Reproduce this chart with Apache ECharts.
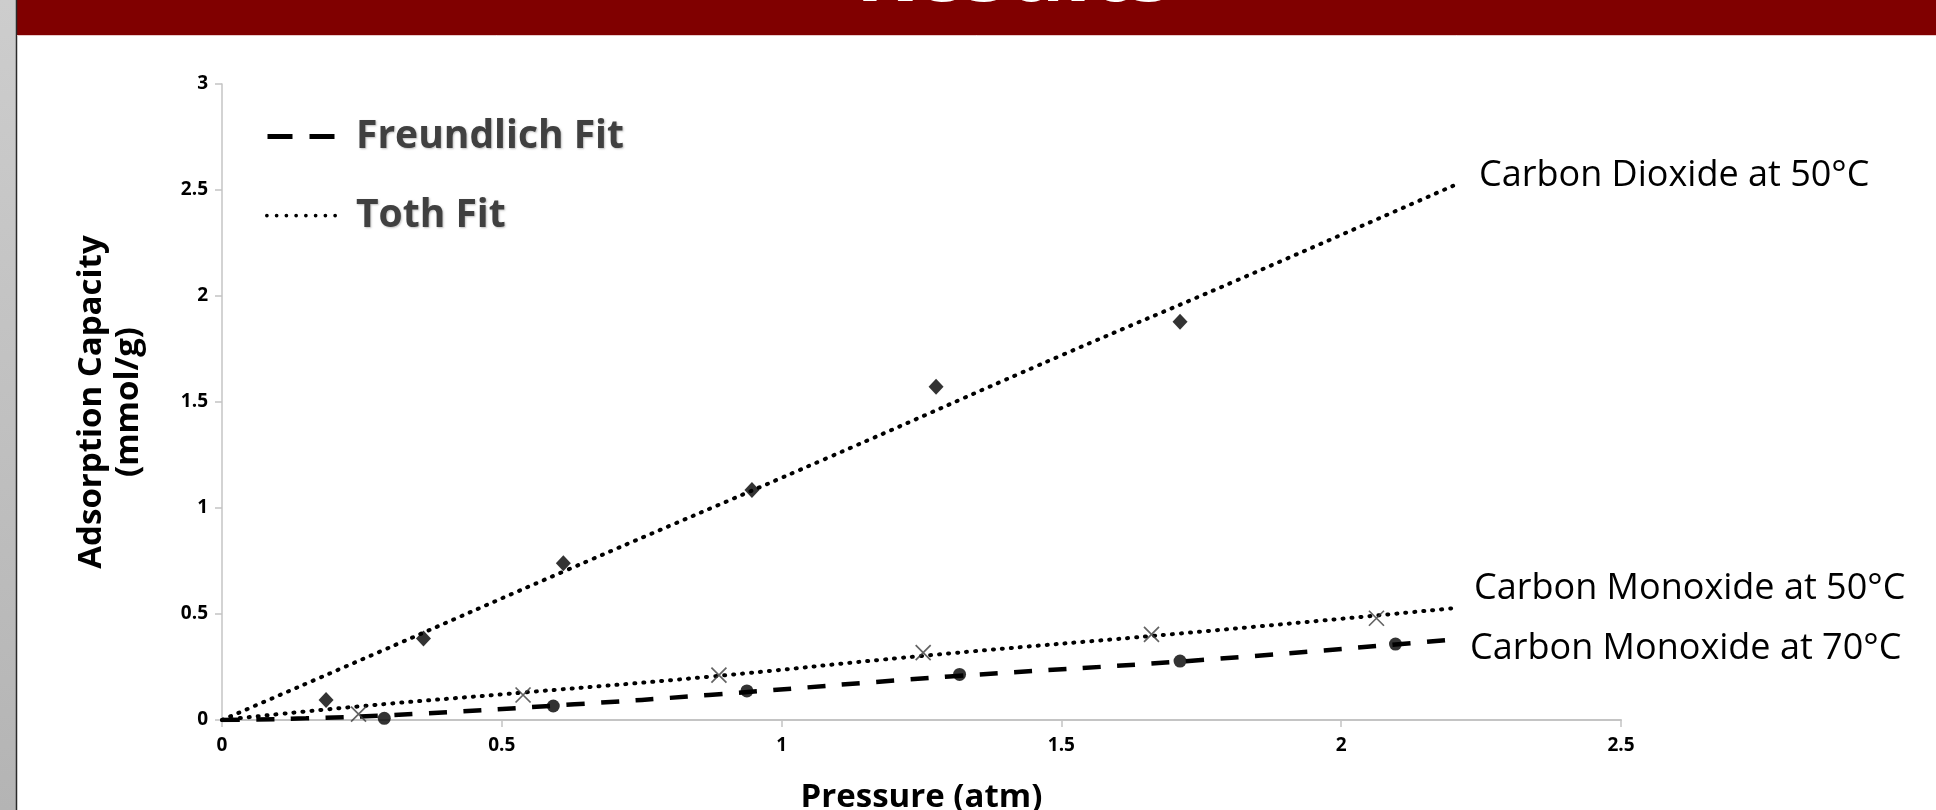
<!DOCTYPE html>
<html>
<head>
<meta charset="utf-8">
<script src="https://cdn.jsdelivr.net/npm/echarts@6/dist/echarts.min.js"></script>
<style>
html,body{margin:0;padding:0;background:#fff;}
#chart{width:1936px;height:810px;}
</style>
</head>
<body>
<div id="chart"></div>
<script>
// ---- data ----
const pageTitle = 'Results';
const xAxisTitle = 'Pressure (atm)';
const yAxisTitle = 'Adsorption Capacity\n(mmol/g)';
const legendNames = ['Freundlich Fit', 'Toth Fit'];
const seriesLabels = ['Carbon Dioxide at 50°C', 'Carbon Monoxide at 50°C', 'Carbon Monoxide at 70°C'];

// measured points
const co2X = [0.186, 0.36, 0.61, 0.947, 1.276, 1.712];
const co2Y = [0.094, 0.385, 0.739, 1.085, 1.572, 1.879];
const co50X = [0.244, 0.538, 0.888, 1.253, 1.661, 2.063];
const co50Y = [0.028, 0.118, 0.212, 0.318, 0.404, 0.48];
const co70X = [0.29, 0.592, 0.938, 1.318, 1.712, 2.097];
const co70Y = [0.008, 0.066, 0.137, 0.215, 0.278, 0.358];

// fit curves
const co2FitX = [0, 0.28, 0.61, 1.08, 1.5, 1.81, 2.2];
const co2FitY = [0, 0.32, 0.70, 1.234, 1.72, 2.07, 2.52];
const co50FitX = [0, 0.24, 0.54, 0.87, 1.25, 1.75, 2.2];
const co50FitY = [0, 0.063, 0.13, 0.204, 0.302, 0.417, 0.527];
const co70FitX = [0, 0.15, 0.34, 0.63, 0.87, 1.3, 1.75, 2.2];
const co70FitY = [0, 0.008, 0.028, 0.074, 0.118, 0.205, 0.283, 0.38];

const xMin = 0, xMax = 2.5, xStep = 0.5;
const yMin = 0, yMax = 3, yStep = 0.5;

function pairs(xs, ys) { return xs.map((x, i) => [x, ys[i]]); }

const FONT = "'Open Sans', 'Noto Sans', sans-serif";
const chart = echarts.init(document.getElementById('chart'), null, {renderer: 'canvas'});

const dotted = {type: [1, 8], width: 4, cap: 'round', color: '#000'};
const dashed = {type: [18, 16.5], width: 4.5, color: '#000'};

// legend sample icons (dashes / dots)
const dashIcon = 'path://M0,0h25v5h-25z M42,0h25v5h-25z';
let dotPath = '';
for (let i = 0; i < 8; i++) {
  const cx = 2 + i * 10.4;
  dotPath += 'M' + (cx - 2) + ',2a2,2 0 1,0 4,0a2,2 0 1,0 -4,0z ';
}
const dotIcon = 'path://' + dotPath;

function endLbl(text, off) {
  return {
    show: true, formatter: text, offset: off, distance: 5,
    color: '#000', fontFamily: FONT, fontSize: 36, fontWeight: 'normal'
  };
}

const option = {
  animation: false,
  backgroundColor: '#ffffff',
  color: ['#000'],
  grid: {left: 222, right: 315, top: 84, bottom: 90, containLabel: false, outerBoundsMode: 'none'},
  graphic: [
    {type: 'rect', left: 0, top: 0, shape: {width: 17, height: 810},
     style: {fill: new echarts.graphic.LinearGradient(0, 0, 0, 1, [{offset: 0, color: '#cdcdcd'}, {offset: 1, color: '#b4b4b4'}])}, z: 1},
    {type: 'line', shape: {x1: 16.5, y1: 0, x2: 16.5, y2: 810}, style: {stroke: '#2a2a2a', lineWidth: 1.5}, z: 2},
    {type: 'rect', left: 17, top: 0, shape: {width: 1919, height: 35}, style: {fill: '#800000'}, z: 1},
    {type: 'line', shape: {x1: 17, y1: 35.5, x2: 1936, y2: 35.5}, style: {stroke: '#e8c8c8', lineWidth: 1}, z: 2},
    {type: 'text', x: 1014, y: -24, z: 3,
     style: {text: pageTitle, fill: '#ffffff', font: "bold 87px " + FONT, align: 'center', verticalAlign: 'middle',
             shadowColor: 'rgba(0,0,0,0.9)', shadowBlur: 4, shadowOffsetX: 3, shadowOffsetY: 3}}
  ],
  legend: {
    data: [
      {name: legendNames[0], icon: dashIcon, itemStyle: {color: '#000', borderWidth: 0}},
      {name: legendNames[1], icon: dotIcon, itemStyle: {color: '#000', borderWidth: 0}}
    ],
    orient: 'vertical',
    left: 265, top: 116,
    itemWidth: 72, itemHeight: 5,
    itemGap: 38,
    textStyle: {fontFamily: FONT, fontWeight: 'bold', fontSize: 39, lineHeight: 41, color: '#404040',
                padding: [0, 0, 0, 14],
                textShadowColor: 'rgba(0,0,0,0.25)', textShadowBlur: 2, textShadowOffsetX: 1, textShadowOffsetY: 1},
    padding: 0
  },
  xAxis: {
    type: 'value', min: xMin, max: xMax, interval: xStep,
    name: xAxisTitle, nameLocation: 'middle', nameGap: 61,
    nameTextStyle: {fontFamily: FONT, fontWeight: 'bold', fontSize: 33, color: '#000'},
    axisLine: {lineStyle: {color: '#c4c4c4', width: 2}},
    axisTick: {show: true, length: 7, lineStyle: {color: '#c4c4c4', width: 1.5}},
    axisLabel: {fontFamily: FONT, fontWeight: 'bold', fontSize: 19, color: '#000', margin: 16},
    splitLine: {show: false}
  },
  yAxis: {
    type: 'value', min: yMin, max: yMax, interval: yStep,
    name: yAxisTitle, nameLocation: 'middle', nameGap: 75, nameRotate: 90,
    nameTextStyle: {fontFamily: FONT, fontWeight: 'bold', fontSize: 33, lineHeight: 37, color: '#000', align: 'center'},
    axisLine: {show: true, lineStyle: {color: '#c4c4c4', width: 1.5}},
    axisTick: {show: true, length: 7, lineStyle: {color: '#c4c4c4', width: 1.5}},
    axisLabel: {fontFamily: FONT, fontWeight: 'bold', fontSize: 19, color: '#000', margin: 14},
    splitLine: {show: false}
  },
  series: [
    {name: legendNames[1], type: 'line', data: pairs(co2FitX, co2FitY), symbol: 'none', smooth: true,
     itemStyle: {color: '#000'}, lineStyle: dotted, z: 2, endLabel: endLbl(seriesLabels[0], [21, -10])},
    {name: legendNames[1], type: 'line', data: pairs(co50FitX, co50FitY), symbol: 'none', smooth: true,
     itemStyle: {color: '#000'}, lineStyle: dotted, z: 2, endLabel: endLbl(seriesLabels[1], [16, -20])},
    {name: legendNames[0], type: 'line', data: pairs(co70FitX, co70FitY), symbol: 'none', smooth: true,
     itemStyle: {color: '#000'}, lineStyle: dashed, z: 2, endLabel: endLbl(seriesLabels[2], [12, 9])},
    {name: 'CO2 50', type: 'scatter', data: pairs(co2X, co2Y), symbol: 'diamond', symbolSize: [15, 16],
     itemStyle: {color: '#000'}, z: 5},
    {name: 'CO 50', type: 'scatter', data: pairs(co50X, co50Y), symbol: 'path://M0,0L10,10M10,0L0,10', symbolSize: 15,
     itemStyle: {color: 'rgba(0,0,0,0)', borderColor: '#3c3c3c', borderWidth: 1.7}, z: 5},
    {name: 'CO 70', type: 'scatter', data: pairs(co70X, co70Y), symbol: 'circle', symbolSize: 13,
     itemStyle: {color: '#000'}, z: 5}
  ]
};
chart.setOption(option);
</script>
</body>
</html>
